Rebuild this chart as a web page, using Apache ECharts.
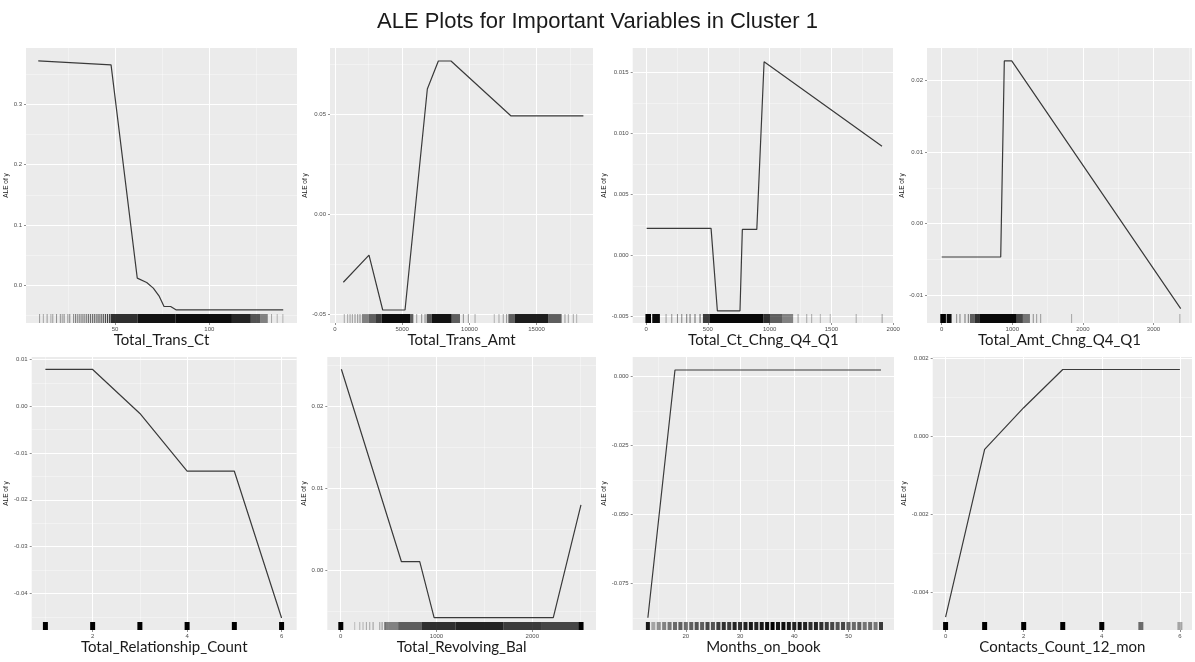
<!DOCTYPE html>
<html>
<head>
<meta charset="utf-8">
<title>ALE Plots for Important Variables in Cluster 1</title>
<script src="https://cdn.jsdelivr.net/npm/echarts@6/dist/echarts.min.js"></script>
<style>
  html, body { margin: 0; padding: 0; background: #fff; }
  #chart { width: 1195px; height: 662px; }
</style>
</head>
<body>
<div id="chart"></div>
<script>
// x axis titles, one per panel (top row then bottom row)
const varNames = ['Total_Trans_Ct', 'Total_Trans_Amt', 'Total_Ct_Chng_Q4_Q1', 'Total_Amt_Chng_Q4_Q1',
  'Total_Relationship_Count', 'Total_Revolving_Bal', 'Months_on_book', 'Contacts_Count_12_mon'];

// ALE curves as [x, ALE of y]
const aleTransCt = [[9.3, 0.3716], [47.9, 0.365], [61.8, 0.0122], [66.8, 0.005], [70.3, -0.0043],
  [73.5, -0.018], [76, -0.0347], [79.5, -0.0347], [82.3, -0.0402], [139.2, -0.0402]];
const aleTransAmt = [[620, -0.034], [2530, -0.0204], [3550, -0.0479], [5210, -0.0479], [6870, 0.0627],
  [7690, 0.0767], [8630, 0.0767], [13100, 0.0492], [18480, 0.0492]];
const aleCtChng = [[5, 0.00222], [526, 0.00222], [577, -0.00455], [760, -0.00455], [779, 0.00213],
  [896, 0.00213], [955, 0.0159], [1909, 0.00897]];
const aleAmtChng = [[0, -0.00468], [836, -0.00468], [887, 0.02277], [992, 0.02277], [3385, -0.0119]];
const aleRelCount = [[1, 0.00784], [2, 0.00784], [3, -0.00156], [4, -0.01389], [5, -0.01389], [6, -0.04523]];
const aleRevBal = [[7, 0.02448], [634, 0.00101], [825, 0.00101], [975, -0.00582], [2219, -0.00582], [2508, 0.00793]];
const aleMonths = [[13, -0.08745], [18, 0.00243], [56, 0.00243]];
const aleContacts = [[0, -0.00464], [1, -0.00034], [2, 0.00073], [3, 0.00171], [6, 0.00171]];

// rug marks: [x, alpha] for one value, [x0, x1, alpha] for a dense run
const rugTransCt = [[10, .35], [12, .3], [14, .35], [16, .3], [17, .35], [19, .4], [21, .4], [22, .35], [23, .45],
  [25, .4], [26, .45], [28, .4], [29, .5], [30, .45], [31, .5], [32, .5], [33, .55], [34, .5], [35, .55], [36, .6],
  [37, .55], [38, .6], [39, .65], [40, .6], [41, .7], [42, .65], [43, .7], [44, .7], [45, .75], [46, .75], [47, .8],
  [47.6, 62, .8], [62, 82, .92], [82, 112, .95], [112, 122, .85], [122, 127, .65], [127, 131, .45],
  [133, .3], [136, .25], [139, .25]];
const rugTransAmt = [[690, .3], [940, .3], [1120, .35], [1290, .35], [1490, .4], [1690, .4], [1860, .45],
  [2000, 2500, .45], [2500, 3000, .6], [3000, 3470, .75], [3470, 5580, .95], [5580, 5830, .6], [6080, .35],
  [6450, .4], [6700, .45], [6820, 7190, .65], [7190, 8680, .92], [8680, 9300, .6], [9550, .4], [9920, .35],
  [10420, .3], [11850, .25], [12200, .3], [12520, .35], [12770, .4], [12900, 13390, .6], [13390, 15870, .88],
  [15870, 16860, .6], [17110, .35], [17360, .3], [17730, .3], [17980, .25]];
const rugCtChng = [[-5, 40, 1], [50, 112, .95], [162, .35], [208, .4], [254, .45], [289, .45], [329, .5],
  [356, .55], [396, .55], [437, .6], [460, 517, .75], [517, 950, .97], [950, 1003, .8], [1003, 1100, .6],
  [1100, 1190, .45], [1230, .35], [1300, .3], [1340, .3], [1410, .25], [1490, .25], [1700, .3], [1910, .35]];
const rugAmtChng = [[-20, 60, 1], [70, 140, .95], [212, .4], [259, .45], [330, .5], [377, .5], [400, 470, .6],
  [470, 542, .8], [542, 1062, .97], [1062, 1150, .7], [1150, 1250, .5], [1297, .4], [1345, .35], [1402, .35],
  [1840, .3], [3373, .3]];
const rugRelCount = [[1, 1], [2, 1], [3, 1], [4, 1], [5, 1], [6, 1]];
const rugRevBal = [[-25, 27, 1], [146, .2], [199, .25], [233, .25], [268, .3], [303, .3], [338, .35], [408, .35],
  [432, .4], [460, .45], [460, 600, .45], [600, 843, .6], [843, 1200, .8], [1200, 1700, .85], [1700, 2100, .75],
  [2100, 2480, .7], [2480, 2535, 1]];
const rugMonths = [[13, .9], [14, .3], [15, .4], [16, .45], [17, .5], [18, .55], [19, .6], [20, .55], [21, .6],
  [22, .65], [23, .6], [24, .7], [25, .65], [26, .75], [27, .8], [28, .75], [29, .85], [30, .8], [31, .85],
  [32, .9], [33, .85], [34, .9], [35, .95], [36, 1], [37, .9], [38, .95], [39, .9], [40, .85], [41, .9],
  [42, .85], [43, .8], [44, .85], [45, .8], [46, .75], [47, .7], [48, .65], [49, .7], [50, .6], [51, .55],
  [52, .6], [53, .5], [54, .55], [55, .5], [56, .75]];
const rugContacts = [[0, 1], [1, 1], [2, 1], [3, 1], [4, 1], [5, .55], [6, .3]];

// tick labels
const xTicks = [[50, 100], [0, 5000, 10000, 15000], [0, 500, 1000, 1500, 2000], [0, 1000, 2000, 3000],
  [2, 4, 6], [0, 1000, 2000], [20, 30, 40, 50], [0, 2, 4, 6]];
const yTicks = [[0, 0.1, 0.2, 0.3], [-0.05, 0, 0.05], [-0.005, 0, 0.005, 0.01, 0.015], [-0.01, 0, 0.01, 0.02],
  [-0.04, -0.03, -0.02, -0.01, 0, 0.01], [0, 0.01, 0.02], [-0.075, -0.05, -0.025, 0], [-0.004, -0.002, 0, 0.002]];
const yDecimals = [1, 2, 3, 2, 2, 2, 3, 3];

// panel boxes (left, top, width, height) and axis extents
const panels = [
  { ale: aleTransCt, rug: rugTransCt, box: [26, 48, 271, 275], xr: [2.8, 146.5], yr: [-0.062, 0.393], gap: 13, rugW: 1 },
  { ale: aleTransAmt, rug: rugTransAmt, box: [330, 48, 263, 275], xr: [-372, 19196], yr: [-0.0544, 0.0832], gap: 17, rugW: 1 },
  { ale: aleCtChng, rug: rugCtChng, box: [632.7, 48, 261.3, 275], xr: [-108, 2006], yr: [-0.00555, 0.01703], gap: 23, rugW: 1 },
  { ale: aleAmtChng, rug: rugAmtChng, box: [927, 48, 265, 275], xr: [-208, 3545], yr: [-0.01392, 0.02458], gap: 19, rugW: 1 },
  { ale: aleRelCount, rug: rugRelCount, box: [31.7, 357, 265, 273], xr: [0.71, 6.32], yr: [-0.0478, 0.0105], gap: 21, rugW: 5 },
  { ale: aleRevBal, rug: rugRevBal, box: [327.3, 357, 268.7, 273], xr: [-140, 2665], yr: [-0.00732, 0.02598], gap: 16, rugW: 1 },
  { ale: aleMonths, rug: rugMonths, box: [632.7, 357, 261.3, 273], xr: [10.2, 58.4], yr: [-0.0919, 0.00715], gap: 22, rugW: 4 },
  { ale: aleContacts, rug: rugContacts, box: [932.7, 357, 259.3, 273], xr: [-0.33, 6.31], yr: [-0.00497, 0.00203], gap: 23, rugW: 5 }
];

// ggplot style minor grid: halfway between the major ticks
function minorValues(ticks, range) {
  const step = ticks[1] - ticks[0];
  const out = [];
  for (let v = ticks[0] - step * Math.ceil((ticks[0] - range[0]) / step) - step / 2; v <= range[1]; v += step) {
    if (v >= range[0]) out.push(+v.toPrecision(10));
  }
  return out;
}

const tickFont = { fontFamily: 'Liberation Sans', fontSize: 6, color: '#4d4d4d' };
const grid = [], xAxis = [], yAxis = [], series = [];

panels.forEach((p, i) => {
  const top = i < 4;
  grid.push({
    left: p.box[0], top: p.box[1], width: p.box[2], height: p.box[3],
    show: true, backgroundColor: '#ebebeb', borderWidth: 0, outerBoundsMode: 'none'
  });

  xAxis.push({
    type: 'value', gridIndex: i, position: 'bottom', min: p.xr[0], max: p.xr[1],
    name: varNames[i], nameLocation: 'middle', nameGap: top ? 8 : 10,
    nameTextStyle: { fontFamily: 'Lato', fontSize: 15, color: '#1a1a1a' },
    axisLine: { show: false, onZero: false },
    axisTick: { customValues: xTicks[i], length: 2, lineStyle: { color: '#444', width: 0.6 } },
    axisLabel: { customValues: xTicks[i], margin: 3, ...tickFont, formatter: v => String(v) },
    splitLine: { lineStyle: { color: '#ffffff', width: 1 } }
  });
  xAxis.push({
    type: 'value', gridIndex: i, position: 'top', min: p.xr[0], max: p.xr[1],
    axisLine: { show: false, onZero: false }, axisLabel: { show: false },
    axisTick: { show: false, customValues: minorValues(xTicks[i], p.xr) },
    splitLine: { lineStyle: { color: 'rgba(255,255,255,0.75)', width: 0.5 } }
  });

  yAxis.push({
    type: 'value', gridIndex: i, position: 'left', min: p.yr[0], max: p.yr[1],
    name: 'ALE of y', nameLocation: 'middle', nameGap: p.gap, nameRotate: 90,
    nameTextStyle: { fontFamily: 'Liberation Sans', fontSize: 6.5, color: '#222' },
    axisLine: { show: false, onZero: false },
    axisTick: { customValues: yTicks[i], length: 2, lineStyle: { color: '#444', width: 0.6 } },
    axisLabel: { customValues: yTicks[i], margin: 4, ...tickFont, formatter: v => v.toFixed(yDecimals[i]) },
    splitLine: { lineStyle: { color: '#ffffff', width: 1 } }
  });
  yAxis.push({
    type: 'value', gridIndex: i, position: 'right', min: p.yr[0], max: p.yr[1],
    axisLine: { show: false, onZero: false }, axisLabel: { show: false },
    axisTick: { show: false, customValues: minorValues(yTicks[i], p.yr) },
    splitLine: { lineStyle: { color: 'rgba(255,255,255,0.75)', width: 0.5 } }
  });

  const rugLen = top ? 9 : 8;
  series.push({
    type: 'custom', coordinateSystem: 'cartesian2d', xAxisIndex: 2 * i, yAxisIndex: 2 * i,
    silent: true, z: 2,
    data: p.rug.map(r => r.length === 2 ? [r[0], r[0], r[1]] : r),
    renderItem: (params, api) => {
      const cs = params.coordSys;
      const x0 = api.coord([api.value(0), 0])[0];
      const x1 = api.coord([api.value(1), 0])[0];
      let x = x0, w = x1 - x0;
      if (w < p.rugW) { x = (x0 + x1) / 2 - p.rugW / 2; w = p.rugW; }
      return {
        type: 'rect',
        shape: { x: x, y: cs.y + cs.height - rugLen, width: w, height: rugLen },
        style: { fill: 'rgba(0,0,0,' + api.value(2) + ')' }
      };
    }
  });

  series.push({
    type: 'line', xAxisIndex: 2 * i, yAxisIndex: 2 * i, data: p.ale,
    showSymbol: false, symbol: 'none', silent: true, z: 3,
    lineStyle: { color: '#3a3a3a', width: 1.2 }
  });
});

const chart = echarts.init(document.getElementById('chart'));
chart.setOption({
  animation: false,
  backgroundColor: '#ffffff',
  title: {
    text: 'ALE Plots for Important Variables in Cluster 1', left: 'center', top: 6,
    textStyle: { fontFamily: 'Liberation Sans', fontSize: 22, fontWeight: 'normal', color: '#1a1a1a' }
  },
  grid, xAxis, yAxis, series
});
</script>
</body>
</html>
